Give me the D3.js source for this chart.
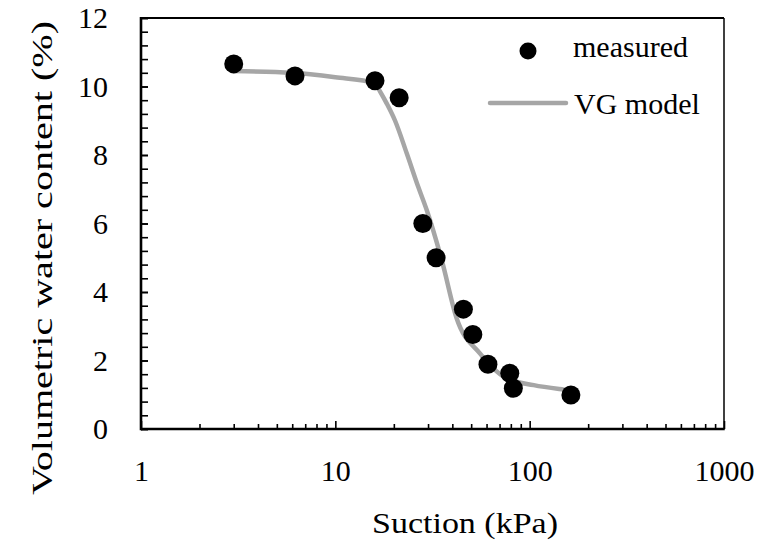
<!DOCTYPE html>
<html>
<head>
<meta charset="utf-8">
<script src="https://cdn.jsdelivr.net/npm/d3@7"></script>
<style>
body { margin: 0; background: #fff; }
</style>
</head>
<body>
<svg id="chart"></svg>
<script>
// measured points
const suction = [3, 6.2, 16, 21.3, 28.2, 33, 45.6, 51, 61, 79, 82.4, 163]
const theta = [10.66, 10.31, 10.17, 9.67, 6.0, 5.0, 3.5, 2.76, 1.89, 1.63, 1.19, 0.99]

// VG model curve
const vgSuction = [3, 6, 10, 16, 17, 18.4, 20.3, 23.3, 26.7, 29.5, 35.4, 42, 55.6, 65, 76, 105, 150, 160]
const vgTheta = [10.45, 10.4, 10.27, 10.1, 9.85, 9.5, 9.0, 8.05, 7.07, 6.4, 4.9, 3.25, 2.2, 1.77, 1.48, 1.28, 1.15, 1.13]

const xTicks = [1, 10, 100, 1000]
const yTicks = [0, 2, 4, 6, 8, 10, 12]

const W = 773, H = 541
const m = {left: 141, right: 724, top: 18, bottom: 429}
const fs = 30
const font = "'Liberation Serif', 'Times New Roman', 'DejaVu Serif', serif"

const svg = d3.select("#chart").attr("width", W).attr("height", H)

const x = d3.scaleLog().domain([1, 1000]).range([m.left, m.right])
const y = d3.scaleLinear().domain([0, 12]).range([m.bottom, m.top])

// minor ticks: 2..9 each decade, every 0.4 on y
let xMinor = []
for (let d = 1; d < 1000; d *= 10)
    for (let k = 2; k <= 9; k++) xMinor.push(d * k)
let yMinor = d3.range(0, 12.01, 0.4).map(v => +v.toFixed(1))

function clean(g){
    g.attr("font-family", null).attr("font-size", null)
    g.select(".domain").remove()
    g.selectAll(".tick line").attr("stroke", "#000").attr("stroke-width", 1.6)
    g.selectAll("text").style("font-family", font).style("font-size", fs + "px").attr("fill", "#000")
}

svg.append("g")
    .attr("transform", `translate(0,${m.bottom})`)
    .call(d3.axisBottom(x).tickValues(xMinor).tickSize(-5).tickFormat(""))
    .call(clean)

svg.append("g")
    .attr("transform", `translate(0,${m.bottom})`)
    .call(d3.axisBottom(x).tickValues(xTicks).tickSize(-8).tickPadding(31).tickFormat(d3.format("d")))
    .call(clean)

svg.append("g")
    .attr("transform", `translate(${m.left},0)`)
    .call(d3.axisLeft(y).tickValues(yMinor).tickSize(-7).tickFormat(""))
    .call(clean)

svg.append("g")
    .attr("transform", `translate(${m.left},0)`)
    .call(d3.axisLeft(y).tickValues(yTicks).tickSize(-7).tickPadding(33))
    .call(clean)

// frame
svg.append("line").attr("x1", m.left).attr("x2", m.right).attr("y1", m.top).attr("y2", m.top)
    .attr("stroke", "#000").attr("stroke-width", 2)
svg.append("line").attr("x1", m.right).attr("x2", m.right).attr("y1", m.top).attr("y2", m.bottom)
    .attr("stroke", "#000").attr("stroke-width", 1.5)
svg.append("line").attr("x1", m.left).attr("x2", m.left).attr("y1", m.top - 1).attr("y2", m.bottom + 1.25)
    .attr("stroke", "#000").attr("stroke-width", 2.6)
svg.append("line").attr("x1", m.left).attr("x2", m.right + 0.75).attr("y1", m.bottom).attr("y2", m.bottom)
    .attr("stroke", "#000").attr("stroke-width", 2.6)

// model curve
const line = d3.line()
    .x(i => x(vgSuction[i]))
    .y(i => y(vgTheta[i]))
    .curve(d3.curveMonotoneX)

svg.append("path")
    .datum(d3.range(vgSuction.length))
    .attr("d", line)
    .attr("fill", "none")
    .attr("stroke", "#a6a6a6")
    .attr("stroke-width", 4.5)
    .attr("stroke-linecap", "round")

// measured
svg.append("g").selectAll("circle")
    .data(suction.map((s, i) => [s, theta[i]]))
    .join("circle")
    .attr("cx", d => x(d[0]))
    .attr("cy", d => y(d[1]))
    .attr("r", 9.5)
    .attr("fill", "#000")

// legend
function label(sel){
    return sel.style("font-family", font).style("font-size", fs + "px").attr("fill", "#000")
}
svg.append("circle").attr("cx", 528).attr("cy", 51).attr("r", 8.5).attr("fill", "#000")
svg.append("text").attr("x", 573).attr("y", 57).call(label).text("measured")
svg.append("line").attr("x1", 490).attr("x2", 566).attr("y1", 103).attr("y2", 103)
    .attr("stroke", "#a6a6a6").attr("stroke-width", 4.5).attr("stroke-linecap", "round")
svg.append("text").attr("x", 574).attr("y", 114).call(label).text("VG model")

// axis titles (stretched to the width they take in the original)
svg.append("text")
    .attr("x", 465).attr("y", 533)
    .attr("text-anchor", "middle")
    .attr("textLength", 186)
    .attr("lengthAdjust", "spacingAndGlyphs")
    .call(label)
    .text("Suction (kPa)")

svg.append("text")
    .attr("transform", "translate(52,258) rotate(-90)")
    .attr("text-anchor", "middle")
    .attr("textLength", 474)
    .attr("lengthAdjust", "spacingAndGlyphs")
    .call(label)
    .text("Volumetric water content (%)")
</script>
</body>
</html>
